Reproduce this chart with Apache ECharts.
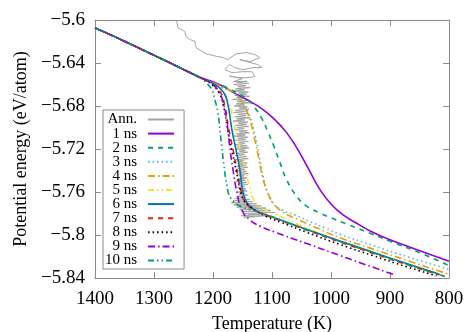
<!DOCTYPE html>
<html>
<head>
<meta charset="utf-8">
<script src="https://cdn.jsdelivr.net/npm/echarts@6/dist/echarts.min.js"></script>
<style>
  html, body { margin: 0; padding: 0; background: #fff; }
  #chart { width: 464px; height: 332px; }
</style>
</head>
<body>
<div id="chart"></div>
<script>
// Potential energy vs temperature for cooling runs of different duration.
// Points are [temperature (K), energy (eV/atom)].

const xTicks = [1400, 1300, 1200, 1100, 1000, 900, 800];
const yTicks = [-5.6, -5.64, -5.68, -5.72, -5.76, -5.8, -5.84];

// shared liquid branch at high temperature
const liquid = [[1400, -5.6075], [1380, -5.6122], [1350, -5.6198], [1300, -5.6328], [1250, -5.6460], [1222, -5.6535]];

// annealing run: temperature fluctuates strongly around the transition
const annealed = [
  [1263, -5.5995], [1261, -5.6026], [1259, -5.6073], [1248, -5.6105], [1246, -5.6151], [1239, -5.6182],
  [1231, -5.6198], [1228, -5.6260], [1219, -5.6291], [1211, -5.6315], [1194, -5.6338], [1183, -5.6350],
  [1175, -5.6369], [1168, -5.6341], [1159.5, -5.6313], [1142.6, -5.6303], [1129, -5.6322], [1120.6, -5.6350],
  [1137.5, -5.6387], [1154.5, -5.6369], [1124, -5.6415], [1117, -5.6443], [1132.4, -5.6443], [1149.4, -5.6462],
  [1163, -5.6443], [1171.4, -5.6415], [1180, -5.6462], [1168, -5.6490], [1151, -5.6481], [1134, -5.6481],
  [1129, -5.6527], [1142.6, -5.6537], [1159.5, -5.6537], [1172, -5.6520], [1150, -5.6545], [1166, -5.6574],
  [1163, -5.656], [1142, -5.657], [1160, -5.658], [1139, -5.659], [1165, -5.660], [1144, -5.661],
  [1158, -5.662], [1137, -5.663], [1162, -5.664], [1146, -5.665], [1166, -5.666], [1140, -5.667],
  [1157, -5.668], [1143, -5.669], [1163, -5.670], [1138, -5.671], [1160, -5.672], [1145, -5.673],
  [1167, -5.674], [1141, -5.675], [1159, -5.676], [1136, -5.677], [1161, -5.678], [1147, -5.679],
  [1164, -5.680], [1142, -5.681], [1156, -5.682], [1139, -5.683], [1162, -5.684], [1145, -5.685],
  [1165, -5.686], [1140, -5.687], [1158, -5.688], [1144, -5.689], [1163, -5.690], [1137, -5.691],
  [1160, -5.692], [1146, -5.693], [1166, -5.694], [1141, -5.695], [1157, -5.696], [1143, -5.697],
  [1162, -5.698], [1139, -5.699], [1159, -5.700], [1147, -5.701], [1164, -5.702], [1142, -5.703],
  [1156, -5.704], [1138, -5.705], [1161, -5.706], [1145, -5.707], [1165, -5.708], [1141, -5.709],
  [1158, -5.710], [1144, -5.711], [1162, -5.712], [1140, -5.713], [1157, -5.714], [1146, -5.715],
  [1163, -5.716], [1142, -5.717], [1159, -5.718], [1139, -5.719], [1161, -5.720], [1145, -5.721],
  [1156, -5.722], [1141, -5.723], [1160, -5.724], [1146, -5.725], [1163, -5.726], [1143, -5.727],
  [1157, -5.728], [1140, -5.729], [1161, -5.730], [1147, -5.731], [1158, -5.732], [1142, -5.733],
  [1155, -5.734], [1144, -5.735], [1160, -5.736], [1141, -5.737], [1157, -5.738], [1146, -5.739],
  [1162, -5.740], [1143, -5.741], [1156, -5.742], [1140, -5.743], [1159, -5.744], [1147, -5.745],
  [1155, -5.746], [1142, -5.747], [1158, -5.748], [1145, -5.749], [1161, -5.750], [1143, -5.751],
  [1155, -5.752], [1141, -5.753], [1157, -5.754], [1146, -5.755], [1159, -5.756], [1144, -5.757],
  [1154, -5.758], [1142, -5.759], [1158, -5.760], [1146, -5.761], [1156, -5.762], [1141, -5.763],
  [1160, -5.764], [1144, -5.765], [1163, -5.766], [1138, -5.767], [1166, -5.768], [1133, -5.769],
  [1169, -5.770], [1126, -5.771], [1165, -5.772], [1118, -5.773], [1160, -5.774], [1110, -5.775],
  [1155, -5.776], [1102, -5.777], [1150, -5.778], [1095, -5.779], [1146, -5.780], [1120, -5.781],
  [1152, -5.782], [1130, -5.783], [1148, -5.7835], [1105, -5.782], [1140, -5.781]
];

const ns1 = liquid.concat([
  [1214, -5.6548], [1185, -5.6611], [1165, -5.6677], [1143, -5.6740], [1117, -5.6826], [1095, -5.6928],
  [1075, -5.7050], [1056, -5.7208], [1039, -5.7376], [1019, -5.7575], [999, -5.7718], [977, -5.7822],
  [951, -5.7908], [931, -5.7970], [900, -5.8045], [866, -5.8113], [833, -5.8179], [800, -5.8244]
]);
const ns2 = liquid.concat([
  [1214, -5.6555], [1180, -5.6620], [1154.5, -5.6695], [1141, -5.6742], [1129, -5.6816], [1117, -5.6919],
  [1107, -5.7040], [1097, -5.7171], [1087, -5.7320], [1075, -5.7488], [1061, -5.7619], [1043, -5.7725],
  [1019, -5.7795], [1000, -5.7840], [970, -5.7905], [931, -5.7990], [900, -5.8058], [845, -5.8175], [800, -5.8285]
]);
const ns3 = liquid.concat([
  [1214, -5.6555], [1185, -5.6630], [1161, -5.6695], [1148, -5.6780], [1137.5, -5.6900], [1129, -5.7069],
  [1122, -5.7255], [1115.5, -5.7442], [1109, -5.7582], [1098.5, -5.7703], [1083, -5.7768], [1061, -5.7815],
  [1036, -5.7875], [1010, -5.7935], [985, -5.7992], [929, -5.8098], [872, -5.8200], [800, -5.8319]
]);
const ns4 = liquid.concat([
  [1214, -5.6555], [1185, -5.6620], [1165, -5.6677], [1153, -5.6750], [1144, -5.6835], [1136, -5.6956],
  [1129, -5.7115], [1122, -5.7302], [1115.5, -5.7470], [1107, -5.7610], [1095, -5.7722], [1081.6, -5.7787],
  [1058, -5.7850], [1024, -5.7935], [985, -5.8025], [929, -5.8130], [872, -5.8235], [800, -5.8365]
]);
const ns5 = liquid.concat([
  [1214, -5.6555], [1197, -5.6600], [1185, -5.6653], [1173, -5.6770], [1165, -5.6947], [1156, -5.7162],
  [1146, -5.7376], [1137.5, -5.7563], [1129, -5.7693], [1112, -5.7768], [1083, -5.7834], [1041, -5.7936],
  [985, -5.8057], [929, -5.8168], [872, -5.8275], [807, -5.8380]
]);
const ns6 = liquid.concat([
  [1214, -5.6555], [1197, -5.6600], [1185, -5.6653], [1176.5, -5.6742], [1168, -5.7020], [1161, -5.7208],
  [1154.5, -5.7395], [1149.4, -5.7600], [1142.6, -5.7700], [1129, -5.7768], [1107, -5.7818], [1083, -5.7865],
  [1041, -5.7948], [985, -5.8055], [929, -5.8160], [872, -5.8265], [816, -5.8365]
]);
const ns7 = liquid.concat([
  [1214, -5.6555], [1198.5, -5.6610], [1188, -5.6667], [1181.5, -5.6760], [1173, -5.7020], [1166, -5.7208],
  [1159.5, -5.7395], [1153, -5.7580], [1146, -5.7690], [1132.5, -5.7760], [1107, -5.7824], [1083, -5.7870],
  [1041, -5.7955], [985, -5.8065], [929, -5.8170], [872, -5.8275], [816, -5.8372]
]);
const ns8 = liquid.concat([
  [1214, -5.6555], [1200, -5.6610], [1190, -5.6677], [1183, -5.6780], [1175, -5.7020], [1168, -5.7208],
  [1161, -5.7395], [1154.5, -5.7563], [1148, -5.7675], [1137.5, -5.7735], [1109, -5.7830], [1083, -5.7885],
  [1041, -5.7975], [985, -5.8088], [929, -5.8192], [872, -5.8295], [821, -5.8380]
]);
const ns9 = liquid.concat([
  [1214, -5.6555], [1202, -5.6593], [1192, -5.6648], [1183, -5.6760], [1176.5, -5.6947], [1171.4, -5.7190],
  [1166, -5.7395], [1159.5, -5.7600], [1151, -5.7768], [1137.5, -5.7860], [1120.6, -5.7917], [1095, -5.7973],
  [1041, -5.8080], [985, -5.8190], [951, -5.8257], [895, -5.8365]
]);
const ns10 = liquid.concat([
  [1210, -5.6593], [1202, -5.6648], [1197, -5.6740], [1192, -5.6853], [1187, -5.7087], [1181.5, -5.7348],
  [1176.5, -5.7535], [1170, -5.7656], [1154.5, -5.7731], [1134, -5.7768], [1107, -5.7815], [1070, -5.7890],
  [1041, -5.7950], [985, -5.8060], [929, -5.8165], [872, -5.8272], [807, -5.8385]
]);

const seriesNames = ['Ann.', '1 ns', '2 ns', '3 ns', '4 ns', '5 ns', '6 ns', '7 ns', '8 ns', '9 ns', '10 ns'];
const seriesData = [annealed, ns1, ns2, ns3, ns4, ns5, ns6, ns7, ns8, ns9, ns10];
const seriesColors = ['#a4a4a4', '#9400d3', '#009e73', '#56b4e9', '#e69f00', '#f0e442',
                      '#0072b2', '#e51e10', '#000000', '#9400d3', '#009e73'];

// gnuplot-like dash patterns
const SOLID = 'solid';
const DASHED = [5, 5];
const DOTTED = [1.5, 3];
const DASHDOT = [7, 3, 1.5, 3];
const DASHDOTDOT = [6, 3, 1.5, 3, 1.5, 3];
const seriesDash = [SOLID, SOLID, DASHED, DOTTED, DASHDOT, DASHDOTDOT, SOLID, DASHED, DOTTED, DASHDOT, DASHDOTDOT];

const FONT = 'Liberation Serif';
const AXIS_GRAY = '#8a8a8a';

const series = seriesNames.map((name, i) => ({
  name: name,
  type: 'line',
  data: seriesData[i],
  symbol: 'none',
  smooth: i === 0 ? false : 0.5,
  silent: true,
  animation: false,
  lineStyle: {
    color: seriesColors[i],
    width: i === 0 ? 1 : 1.6,
    type: seriesDash[i]
  },
  itemStyle: { color: seriesColors[i] }
}));

function yLabel(v) {
  return (Math.round(v * 100) / 100).toString().replace('-', '\u2212');
}
function xLabel(v) {
  return String(Math.round(v));
}

const baseX = {
  type: 'value', min: 800, max: 1400, interval: 100, inverse: true,
  axisLine: { show: true, lineStyle: { color: AXIS_GRAY, width: 1 } },
  axisTick: { show: true, inside: true, length: 6, lineStyle: { color: AXIS_GRAY } },
  splitLine: { show: false }
};
const baseY = {
  type: 'value', min: -5.84, max: -5.6, interval: 0.04,
  axisLine: { show: true, lineStyle: { color: AXIS_GRAY, width: 1 } },
  axisTick: { show: true, inside: true, length: 6, lineStyle: { color: AXIS_GRAY } },
  splitLine: { show: false }
};

const chart = echarts.init(document.getElementById('chart'), null, { renderer: 'canvas' });
chart.setOption({
  animation: false,
  backgroundColor: '#fff',
  grid: { left: 95, right: 15, top: 20, bottom: 54, containLabel: false, outerBoundsMode: 'none' },
  xAxis: [
    Object.assign({}, baseX, {
      position: 'bottom',
      axisLabel: { fontFamily: FONT, fontSize: 19, color: '#000', margin: 12, formatter: xLabel },
      name: 'Temperature (K)', nameLocation: 'middle', nameGap: 37,
      nameTextStyle: { fontFamily: FONT, fontSize: 18, color: '#000' }
    }),
    Object.assign({}, baseX, { position: 'top', axisLabel: { show: false } })
  ],
  yAxis: [
    Object.assign({}, baseY, {
      position: 'left',
      axisLabel: { fontFamily: FONT, fontSize: 19, color: '#000', margin: 10, formatter: yLabel },
      name: 'Potential energy (eV/atom)', nameLocation: 'middle', nameGap: 62, nameRotate: 90,
      nameTextStyle: { fontFamily: FONT, fontSize: 18, color: '#000' }
    }),
    Object.assign({}, baseY, { position: 'right', axisLabel: { show: false } })
  ],
  legend: {
    orient: 'vertical', left: 103, top: 110, align: 'right',
    itemWidth: 26, itemHeight: 10, itemGap: -0.9,
    padding: [2, 9, 1, 2],
    borderColor: AXIS_GRAY, borderWidth: 1, borderRadius: 0, backgroundColor: '#fff',
    itemStyle: { color: 'rgba(0,0,0,0)', borderColor: 'rgba(0,0,0,0)', borderWidth: 0 },
    textStyle: { fontFamily: FONT, fontSize: 15, color: '#000', lineHeight: 14, padding: [0, 6, 0, 0] },
    selectedMode: false,
    data: seriesNames
  },
  series: series
});
</script>
</body>
</html>
